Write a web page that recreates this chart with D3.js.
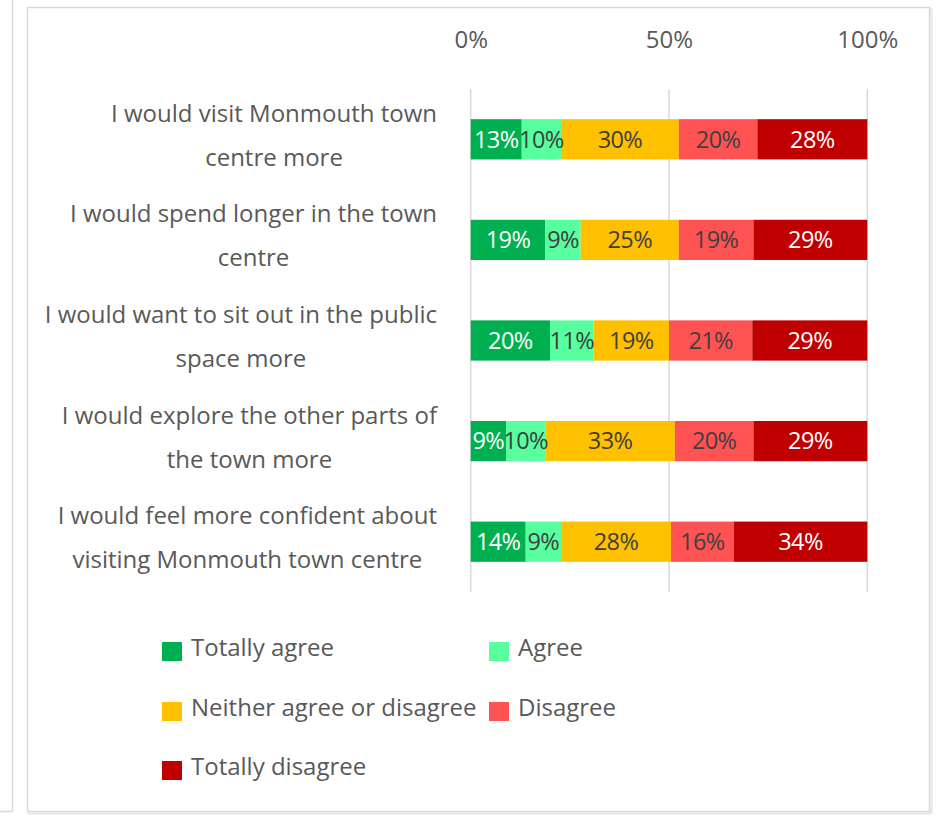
<!DOCTYPE html>
<html>
<head>
<meta charset="utf-8">
<script src="https://cdn.jsdelivr.net/npm/d3@7"></script>
<style>
  html, body { margin: 0; padding: 0; background: #fff; }
  svg { display: block; }
  text { font-family: "Open Sans", "Noto Sans", sans-serif; }
</style>
</head>
<body>
<div id="chart"></div>
<script>
// ---- data ----
const categories = [
  ["I would visit Monmouth town", "centre more"],
  ["I would spend longer in the town", "centre"],
  ["I would want to sit out in the public", "space more"],
  ["I would explore the other parts of", "the town more"],
  ["I would feel more confident about", "visiting Monmouth town centre"]
];
const seriesNames = ["Totally agree", "Agree", "Neither agree or disagree", "Disagree", "Totally disagree"];
const totallyAgree    = [13, 19, 20, 9, 14];
const agree           = [10, 9, 11, 10, 9];
const neither         = [30, 25, 19, 33, 28];
const disagree        = [20, 19, 21, 20, 16];
const totallyDisagree = [28, 29, 29, 29, 34];
const tickValues = [0, 0.5, 1];
const tickLabels = ["0%", "50%", "100%"];

const colors = ["#00B050", "#57FF9E", "#FFC000", "#FF5252", "#C00000"];
const labelColors = ["#ffffff", "#404040", "#404040", "#404040", "#ffffff"];

const seriesArrays = [totallyAgree, agree, neither, disagree, totallyDisagree];
const table = categories.map((c, i) => {
  const o = { idx: i };
  seriesNames.forEach((s, j) => { o[s] = seriesArrays[j][i]; });
  return o;
});

// ---- layout ----
const W = 947, H = 836;
const svg = d3.select("#chart").append("svg").attr("width", W).attr("height", H);

// frames
svg.append("rect").attr("x", 28.5).attr("y", 9.5).attr("width", 903).attr("height", 804)
  .attr("fill", "none").attr("stroke", "#e6e6e6").attr("stroke-width", 2);
svg.append("rect").attr("x", 27.5).attr("y", 7.5).attr("width", 902).attr("height", 804)
  .attr("fill", "#fff").attr("stroke", "#d9d9d9").attr("stroke-width", 1.5);
svg.append("path").attr("d", "M12.5,0 V811.5 H0").attr("fill", "none")
  .attr("stroke", "#d9d9d9").attr("stroke-width", 1.5);

const x = d3.scaleLinear().domain([0, 1]).range([470.7, 867.3]);
const y = d3.scaleBand().domain(d3.range(categories.length)).range([89, 592]).paddingInner(0.6).paddingOuter(0.3);

const stack = d3.stack().keys(seriesNames).offset(d3.stackOffsetExpand);
const stacked = stack(table);

// gridlines
svg.append("g").selectAll("line").data(tickValues).join("line")
  .attr("x1", d => x(d)).attr("x2", d => x(d))
  .attr("y1", 89).attr("y2", 592)
  .attr("stroke", "#d9d9d9").attr("stroke-width", 1.5);

// top axis labels
const axis = d3.axisTop(x).tickValues(tickValues).tickFormat((d, i) => tickLabels[i]).tickSize(0);
const ax = svg.append("g").attr("transform", "translate(0,51)").call(axis);
ax.select(".domain").remove();
ax.selectAll("text").attr("font-size", 24).attr("fill", "#595959")
  .style("font-family", "'Open Sans', sans-serif");

// bars
const groups = svg.append("g").selectAll("g").data(stacked).join("g")
  .attr("fill", (d, i) => colors[i]);
groups.selectAll("rect").data(d => d).join("rect")
  .attr("x", d => x(d[0]))
  .attr("width", d => x(d[1]) - x(d[0]))
  .attr("y", (d, i) => y(i))
  .attr("height", y.bandwidth());

// data labels
stacked.forEach((s, si) => {
  svg.append("g").selectAll("text").data(s).join("text")
    .attr("x", d => (x(d[0]) + x(d[1])) / 2)
    .attr("y", (d, i) => y(i) + y.bandwidth() / 2)
    .attr("dy", "0.35em")
    .attr("text-anchor", "middle")
    .attr("font-size", 23.5)
    .attr("letter-spacing", -0.6)
    .attr("fill", labelColors[si])
    .text((d, i) => seriesArrays[si][i] + "%");
});

// category labels
categories.forEach((lines, i) => {
  const cy = y(i) + y.bandwidth() / 2;
  const g = svg.append("g");
  const texts = lines.map((ln, k) => g.append("text")
    .attr("y", cy - 4 + (k - (lines.length - 1) / 2) * 44)
    .attr("dy", "0.35em")
    .attr("text-anchor", "middle")
    .attr("font-size", 24)
    .attr("fill", "#595959")
    .text(ln));
  const maxW = d3.max(texts, t => t.node().getComputedTextLength());
  texts.forEach(t => t.attr("x", 437 - maxW / 2));
});

// legend
const legendPos = [
  [162, 652], [489, 652],
  [162, 712], [489, 712],
  [162, 771]
];
const lg = svg.append("g");
seriesNames.forEach((s, i) => {
  const [lx, ly] = legendPos[i];
  lg.append("rect").attr("x", lx).attr("y", ly - 10).attr("width", 20).attr("height", 19).attr("fill", colors[i]);
  lg.append("text").attr("x", lx + 29).attr("y", ly - 4).attr("dy", "0.35em")
    .attr("font-size", 24).attr("fill", "#595959").text(s);
});
</script>
</body>
</html>
